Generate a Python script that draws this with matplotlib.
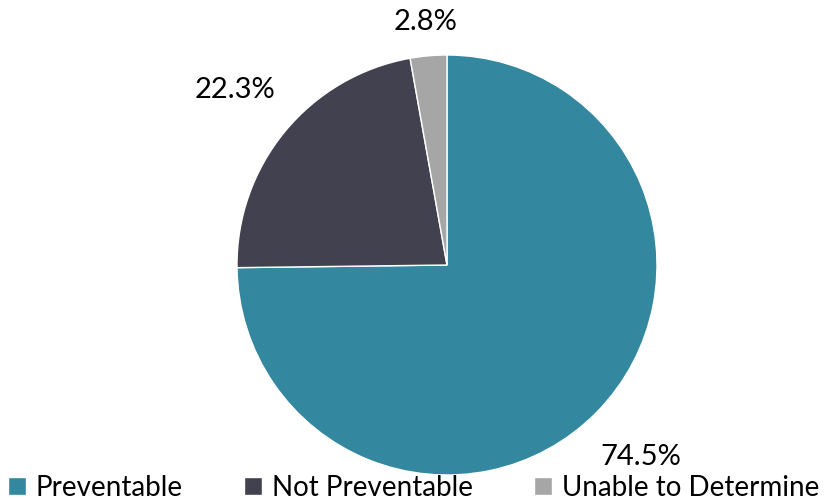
import matplotlib.pyplot as plt

# share of cases by outcome (percent)
categories = ["Preventable", "Not Preventable", "Unable to Determine"]
shares = [74.5, 22.3, 2.8]
colors = ["#33879E", "#41414F", "#A6A6A6"]

plt.rcParams["font.family"] = ["Lato", "DejaVu Sans"]

fig = plt.figure(figsize=(8.27, 5), dpi=100)
ax = fig.add_axes([0.2865, 0.05, 0.508, 0.84])

wedges, texts = ax.pie(shares, colors=colors, startangle=90, counterclock=False,
                       labels=[f"{v}%" for v in shares], labeldistance=1.0,
                       wedgeprops=dict(edgecolor="white", linewidth=1),
                       textprops=dict(fontsize=21, color="black"))
# push each percentage label out from the rim
for t, d in zip(texts, [1.30, 1.31, 1.16]):
    x, y = t.get_position()
    t.set_position((x * d, y * d))
    t.set_ha("center")
    t.set_va("center")
ax.set_aspect("equal")
ax.set_xlim(-1, 1)
ax.set_ylim(-1, 1)

fig.legend(wedges, categories, loc="lower center", bbox_to_anchor=(0.5, -0.04),
           ncol=3, frameon=False, fontsize=20, handlelength=0.65, handleheight=0.65,
           handletextpad=0.35, columnspacing=2.2, borderpad=0.2)

fig.savefig("out.png", dpi=100)
